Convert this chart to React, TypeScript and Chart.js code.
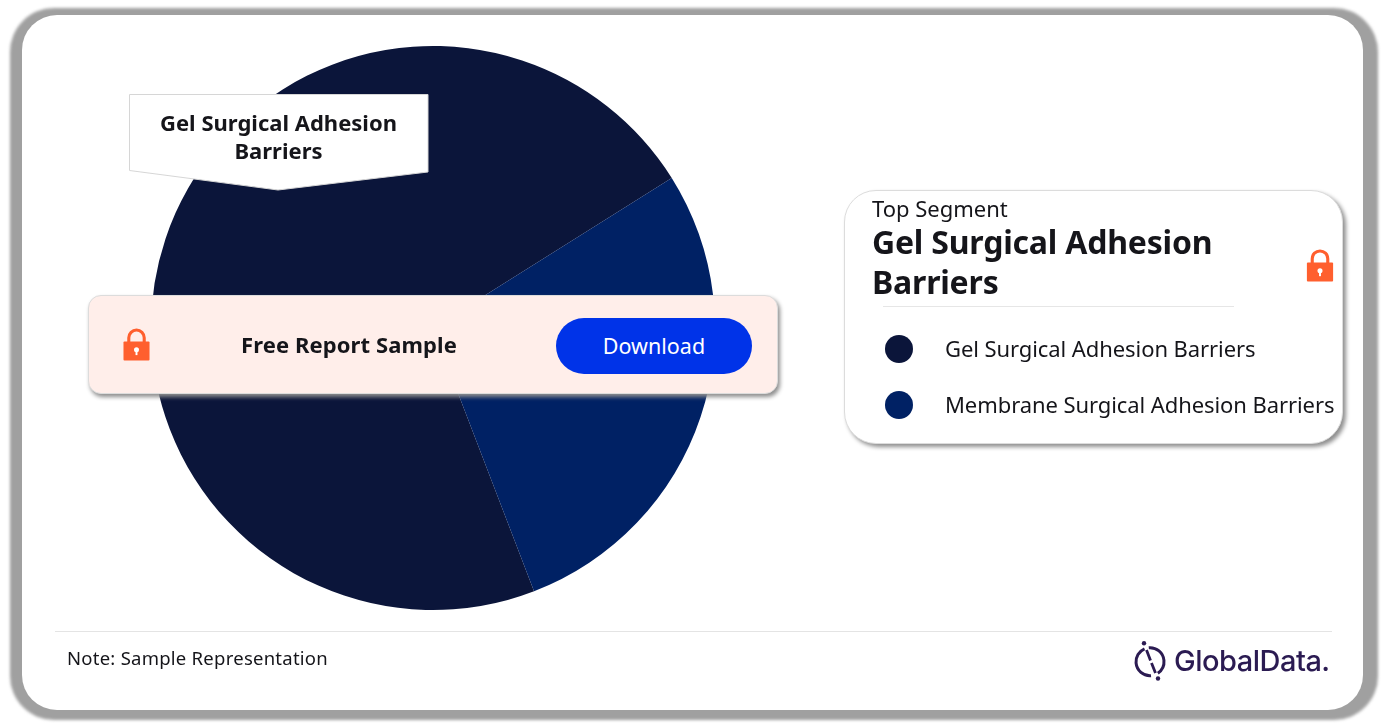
import React, { useEffect, useRef } from "react";
import { Chart, registerables } from "chart.js";

Chart.register(...registerables);

const segments = ["Gel Surgical Adhesion Barriers", "Membrane Surgical Adhesion Barriers"];
const shares = [71.9, 28.1];
const sliceColors = ["#0b153a", "#002164"];
const startAngle = 159;
const topSegmentLabel = "Top Segment";
const topSegmentName = ["Gel Surgical Adhesion", "Barriers"];
const calloutLines = ["Gel Surgical Adhesion", "Barriers"];
const noteText = "Note: Sample Representation";

const FONT = '"Noto Sans", sans-serif';

const abs = (left: number, top: number, extra: React.CSSProperties = {}): React.CSSProperties => ({
  position: "absolute",
  left,
  top,
  ...extra,
});

function textStyle(
  left: number,
  centerY: number,
  size: number,
  weight: number,
  spacing: number,
  color = "#15151a"
): React.CSSProperties {
  return abs(left, centerY - size, {
    height: size * 2,
    lineHeight: `${size * 2}px`,
    fontSize: size,
    fontWeight: weight,
    letterSpacing: spacing,
    color,
    whiteSpace: "nowrap",
    fontFamily: FONT,
  });
}

function Lock({ x, y, w = 28, h = 34 }: { x: number; y: number; w?: number; h?: number }) {
  return (
    <svg style={abs(x, y)} width={w} height={h} viewBox="0 0 28 34">
      <path d="M6 16 V10 a8 8 0 0 1 16 0 V16" fill="none" stroke="#ff5f2e" strokeWidth="3.2" />
      <rect x="0.5" y="14" width="27" height="19.5" rx="1" fill="#ff5f2e" />
      <circle cx="14" cy="22.5" r="2.6" fill="#fff" />
      <rect x="13" y="23" width="2" height="5" fill="#fff" />
    </svg>
  );
}

export default function App() {
  const ref = useRef<HTMLCanvasElement>(null);

  useEffect(() => {
    if (!ref.current) return;
    const chart = new Chart(ref.current, {
      type: "pie",
      data: {
        labels: segments,
        datasets: [{ data: shares, backgroundColor: sliceColors, borderWidth: 0 }],
      },
      options: {
        animation: false,
        responsive: false,
        rotation: startAngle,
        layout: { padding: 8 },
        plugins: { legend: { display: false }, tooltip: { enabled: false } },
      },
    });
    return () => chart.destroy();
  }, []);

  return (
    <div style={{ position: "absolute", left: 0, top: 0, width: 1385, height: 726, background: "#fff", overflow: "hidden", fontFamily: FONT }}>
      {/* frame */}
      <div style={abs(10, 8, { width: 1368, height: 712, borderRadius: 44, background: "#a0a0a0", filter: "blur(1.5px)" })} />
      <div style={abs(22, 15, { width: 1341, height: 695, borderRadius: 35, background: "#fff" })} />

      {/* pie */}
      <canvas ref={ref} width={580} height={580} style={abs(143, 38, { width: 580, height: 580 })} />

      {/* callout */}
      <svg style={abs(0, 0)} width={1385} height={726}>
        <polygon points="129.5,94.5 428,94.5 428,172 278,190 129.5,170.5" fill="#fff" stroke="#d6d6d6" strokeWidth="1" />
      </svg>
      {calloutLines.map((line, i) => (
        <div key={line} style={{ ...textStyle(129, 122 + i * 28, 22, 700, 0), width: 299, textAlign: "center" }}>
          {line}
        </div>
      ))}

      {/* banner */}
      <div style={abs(88, 295, { width: 690, height: 99, boxSizing: "border-box", background: "#ffeeea", border: "1px solid #dcdcdc", borderRadius: 13, boxShadow: "2px 3px 4px #8e8e8e" })} />
      <Lock x={123} y={328} w={27} h={33} />
      <div style={textStyle(241, 344, 22, 700, 0.1)}>Free Report Sample</div>
      <div style={abs(556, 318, { width: 196, height: 56, borderRadius: 28, background: "#0033e8" })} />
      <div style={{ ...textStyle(556, 345, 21.5, 400, 0, "#fff"), width: 196, textAlign: "center" }}>Download</div>

      {/* right panel */}
      <div style={abs(844, 190, { width: 499, height: 254, boxSizing: "border-box", background: "#fff", border: "1px solid #dcdcdc", borderRadius: 32, boxShadow: "3px 3px 4px #8f8f8f" })} />
      <div style={textStyle(872, 208, 22, 400, 0)}>{topSegmentLabel}</div>
      {topSegmentName.map((line, i) => (
        <div key={line} style={textStyle(872, 242 + i * 40, 32, 700, -0.2)}>
          {line}
        </div>
      ))}
      <Lock x={1306} y={249} w={28} h={33} />
      <div style={abs(883, 305.5, { width: 351, height: 1, background: "#e6e6e6" })} />
      {segments.map((name, i) => (
        <React.Fragment key={name}>
          <div style={abs(885, 335 + i * 56, { width: 28, height: 28, borderRadius: "50%", background: sliceColors[i] })} />
          <div style={textStyle(945, 348 + i * 56, 22, 400, -0.08)}>{name}</div>
        </React.Fragment>
      ))}

      {/* footer */}
      <div style={abs(55, 630.5, { width: 1277, height: 1, background: "#e4e4e4" })} />
      <div style={textStyle(67, 657.5, 18.5, 400, 0.25)}>{noteText}</div>
      <svg style={abs(1132, 640)} width={40} height={42} viewBox="0 0 40 42">
        <circle cx="18" cy="21.7" r="14" fill="none" stroke="#2b1b52" strokeWidth="3" strokeDasharray="36.6 7.3 39.1 4.9" transform="rotate(-95 18 21.7)" />
        <path d="M14.5 10 L18.5 20.5 M19.5 23 L23.5 33" fill="none" stroke="#2b1b52" strokeWidth="2.8" />
        <circle cx="12" cy="3.2" r="2.2" fill="#2b1b52" />
        <circle cx="26" cy="38.5" r="2.2" fill="#2b1b52" />
      </svg>
      <div style={{ ...textStyle(1174, 661, 29, 500, -0.5, "#2b1b52"), fontFamily: "Inter, sans-serif" }}>GlobalData.</div>
    </div>
  );
}
